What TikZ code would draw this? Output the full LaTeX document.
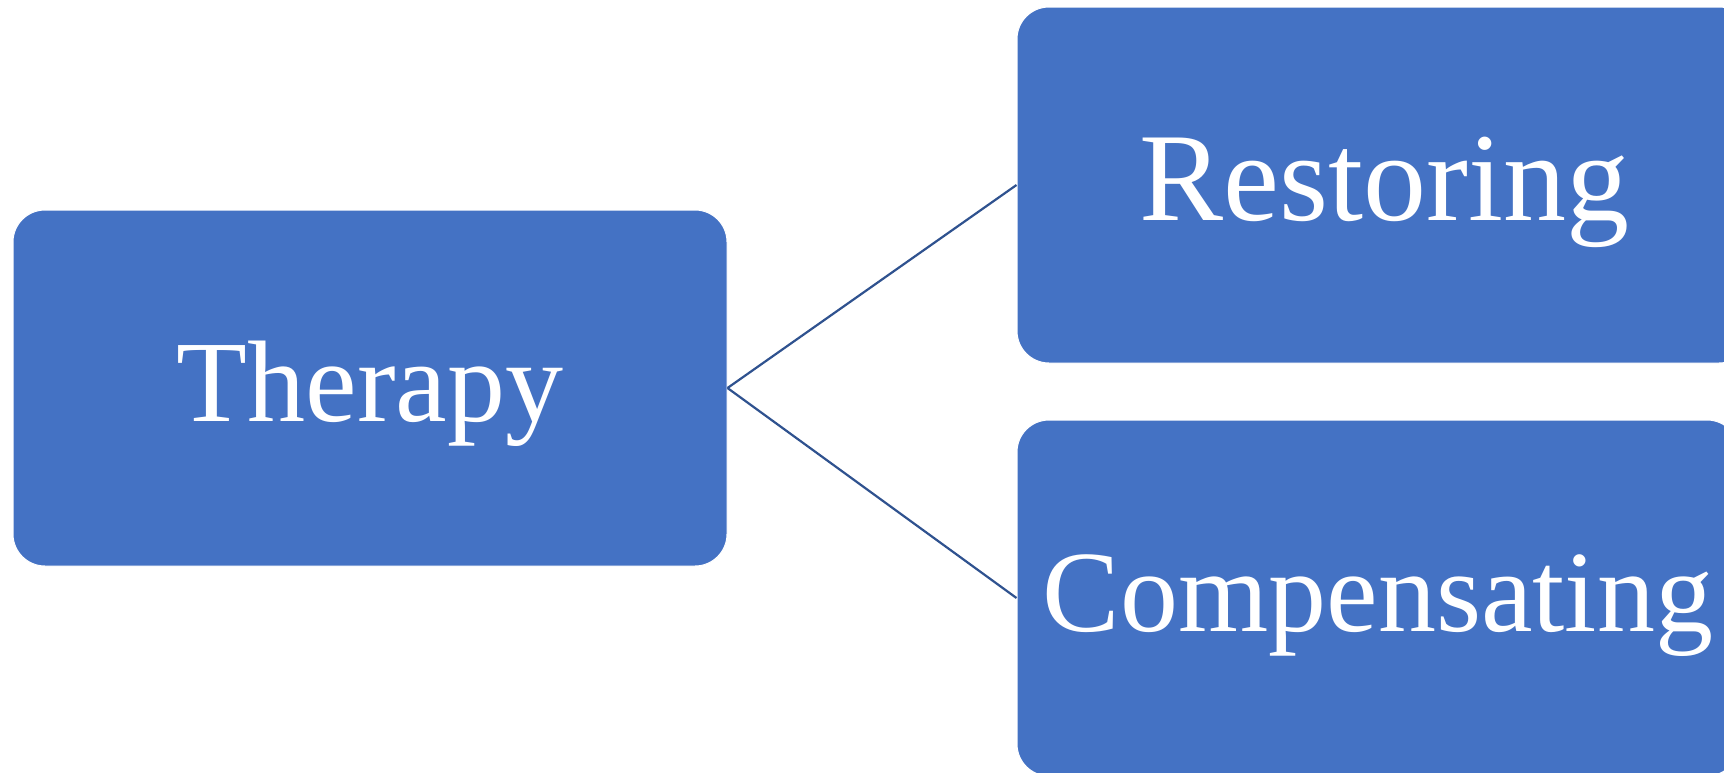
\documentclass[tikz,border=0pt]{standalone}
\usepackage{fontspec}
\setmainfont{Liberation Serif}
\usepackage{tikz}
\usetikzlibrary{calc}
\definecolor{boxblue}{HTML}{4472C4}
\definecolor{lineblue}{HTML}{2F528F}

\begin{document}
\begin{tikzpicture}[x=1pt,y=-1pt,
  branch/.style={rectangle,rounded corners=32pt,fill=boxblue,draw=white,line width=1pt,
    minimum width=722pt,minimum height=356pt,inner sep=0pt,text=white,
    text height=79pt,text depth=12pt,
    font=\fontsize{116}{130}\selectfont},
  link/.style={draw=lineblue,line width=2.2pt}]
\useasboundingbox (0,0) rectangle (1724,772);
\clip (0,0) rectangle (1724,772);
\node[branch,minimum width=714pt] (therapy) at (370,388) {Therapy};
\node[branch,minimum width=734pt,text depth=8pt,font=\fontsize{126}{140}\selectfont] (restoring) at (1384,185) {Restoring};
\node[branch] (compensating) at (1378,598) {Compensating};
\draw[link] (therapy.east) -- (restoring.west);
\draw[link] (therapy.east) -- (compensating.west);
\end{tikzpicture}
\end{document}
